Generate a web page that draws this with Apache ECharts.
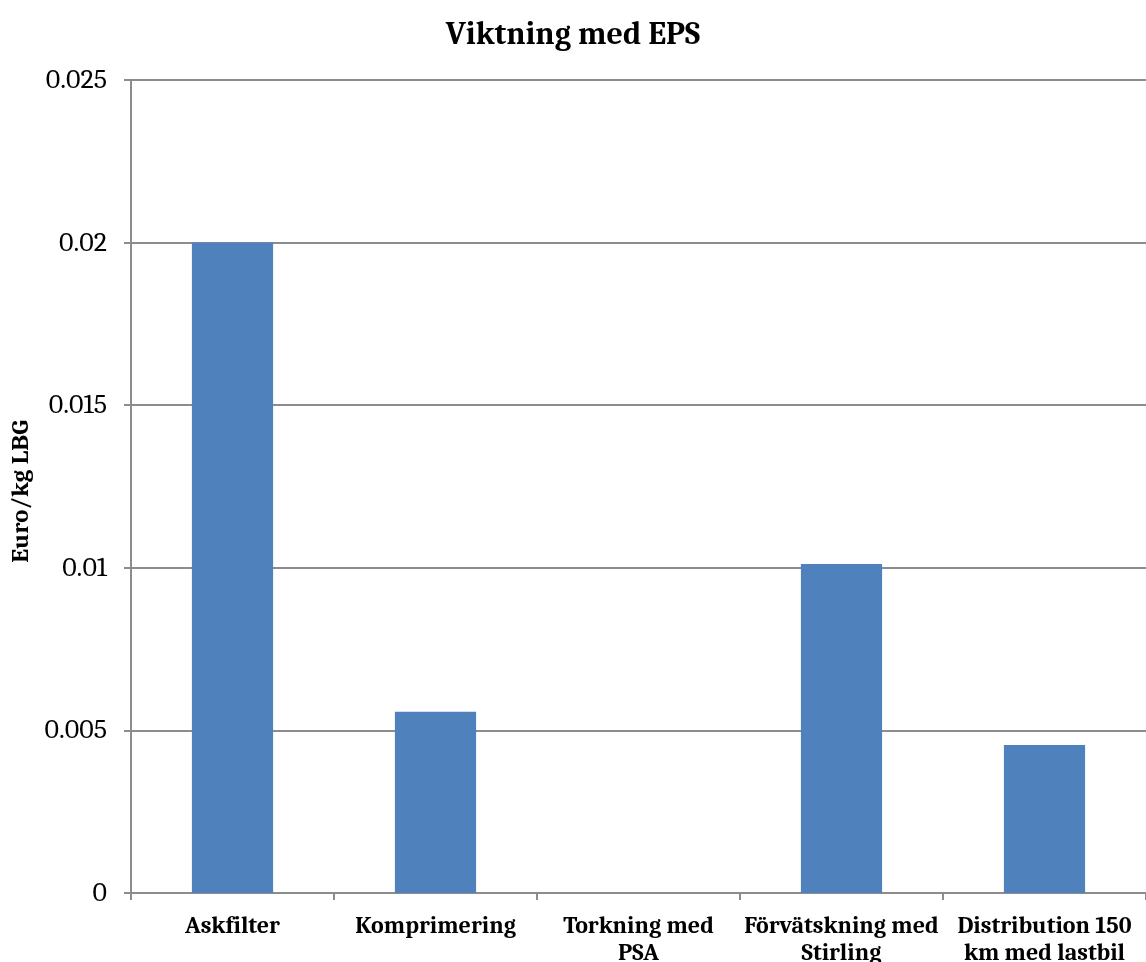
<!DOCTYPE html>
<html>
<head>
<meta charset="utf-8">
<script src="https://cdn.jsdelivr.net/npm/echarts@6/dist/echarts.min.js"></script>
<style>
  html, body { margin: 0; padding: 0; background: #fff; }
  #chart { width: 1146px; height: 962px; }
</style>
</head>
<body>
<div id="chart"></div>
<script>
// Cost per process step, weighted with EPS
const categories = ['Askfilter', 'Komprimering', 'Torkning med\nPSA', 'Förvätskning med\nStirling', 'Distribution 150\nkm med lastbil'];
const values = [0.0200, 0.00557, 0, 0.01012, 0.00455];
const yTicks = [0, 0.005, 0.01, 0.015, 0.02, 0.025];

const serif = 'Cambria, "DejaVu Serif", "Liberation Serif", serif';
const chart = echarts.init(document.getElementById('chart'));
chart.setOption({
  animation: false,
  title: {
    text: 'Viktning med EPS',
    left: 'center',
    top: 14,
    textStyle: { fontFamily: serif, fontWeight: 'bold', fontSize: 32, color: '#000' }
  },
  grid: { left: 131, right: 0, top: 80, bottom: 69, containLabel: false, outerBoundsMode: 'none' },
  xAxis: {
    type: 'category',
    data: categories,
    boundaryGap: true,
    axisLine: { lineStyle: { color: '#8c8c8c', width: 2 } },
    axisTick: { show: true, length: 7, alignWithLabel: false, lineStyle: { color: '#8c8c8c', width: 2 } },
    axisLabel: {
      interval: 0, margin: 20, fontFamily: serif, fontWeight: 'bold', fontSize: 24,
      color: '#000', lineHeight: 27
    }
  },
  yAxis: {
    type: 'value',
    min: yTicks[0],
    max: yTicks[yTicks.length - 1],
    interval: 0.005,
    name: 'Euro/kg LBG',
    nameLocation: 'middle',
    nameGap: 89,
    nameTextStyle: { fontFamily: serif, fontWeight: 'bold', fontSize: 25, color: '#000', padding: [0, 10, 0, 0] },
    axisLine: { show: true, lineStyle: { color: '#8c8c8c', width: 2 } },
    axisTick: { show: true, length: 7, lineStyle: { color: '#8c8c8c', width: 2 } },
    axisLabel: {
      margin: 24, fontFamily: serif, fontSize: 28, color: '#000',
      formatter: v => yTicks.includes(+v.toFixed(3)) ? String(+v.toFixed(3)) : ''
    },
    splitLine: { show: true, lineStyle: { color: '#8c8c8c', width: 2 } }
  },
  series: [{
    type: 'bar',
    data: values,
    barWidth: '40%',
    itemStyle: { color: '#4f81bd' }
  }]
});
</script>
</body>
</html>
